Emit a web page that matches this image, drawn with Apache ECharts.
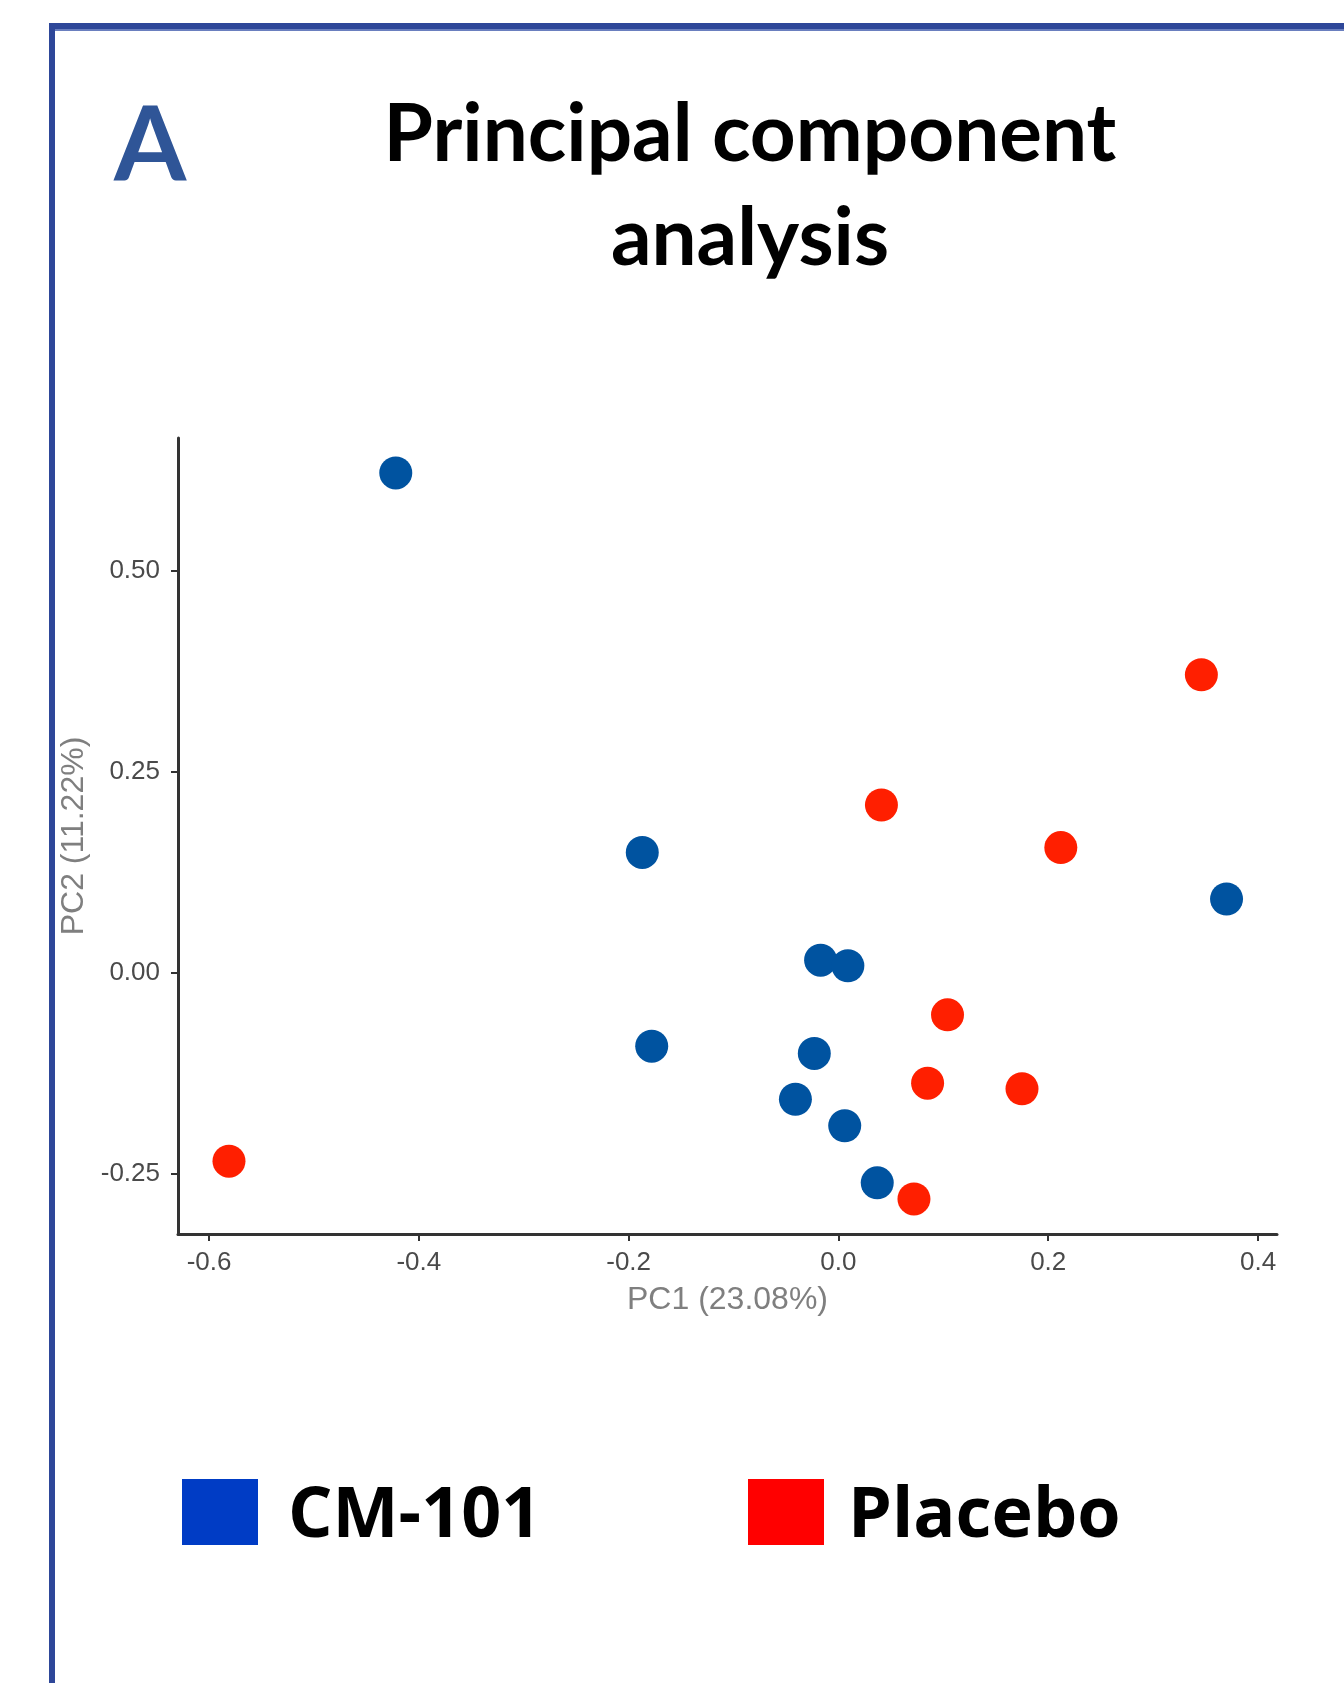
<!DOCTYPE html>
<html>
<head>
<meta charset="utf-8">
<script src="https://cdn.jsdelivr.net/npm/echarts@6/dist/echarts.min.js"></script>
<style>
html,body{margin:0;padding:0;background:#fff;}
#chart{width:1344px;height:1683px;}
</style>
</head>
<body>
<div id="chart"></div>
<script>
// ---- data ----
var seriesNames = ['CM-101', 'Placebo'];
var cm101Points = [
  [-0.422, 0.622], [-0.187, 0.150], [0.370, 0.092], [-0.017, 0.016], [0.009, 0.009],
  [-0.178, -0.091], [-0.023, -0.100], [-0.041, -0.157], [0.006, -0.190], [0.037, -0.261]
];
var placeboPoints = [
  [-0.581, -0.234], [0.346, 0.371], [0.041, 0.209], [0.212, 0.156], [0.104, -0.052],
  [0.085, -0.137], [0.175, -0.144], [0.072, -0.281]
];
var xTicks = [-0.6, -0.4, -0.2, 0.0, 0.2, 0.4];
var yTicks = [-0.25, 0.0, 0.25, 0.50];
var xAxisTitle = 'PC1 (23.08%)';
var yAxisTitle = 'PC2 (11.22%)';
var chartTitle = 'Principal component\nanalysis';
var panelLetter = 'A';

var chart = echarts.init(document.getElementById('chart'), null, {renderer: 'canvas'});
var tickFont = 'Liberation Sans, Arial, sans-serif';
// legend swatch: a 76x66 square; a hair-thin dot below it lowers the label slightly
var swatchIcon = 'path://M0,0L76,0L76,66L0,66Z M0,76.99L0.01,76.99L0.01,77L0,77Z';
var option = {
  backgroundColor: '#ffffff',
  animation: false,
  grid: {left: 178, top: 438, right: 67, bottom: 449, containLabel: false},
  legend: [
    {
      data: [{name: seriesNames[0], itemStyle: {color: '#003CC5'}}],
      left: 182, top: 1479, padding: 0,
      itemWidth: 76, itemHeight: 77, icon: swatchIcon,
      selectedMode: false,
      textStyle: {fontFamily: 'Open Sans', fontWeight: 700, fontSize: 70, color: '#000', lineHeight: 66, padding: [0, 0, 0, 25]}
    },
    {
      data: [{name: seriesNames[1], itemStyle: {color: '#FF0000'}}],
      left: 748, top: 1479, padding: 0,
      itemWidth: 76, itemHeight: 77, icon: swatchIcon,
      selectedMode: false,
      textStyle: {fontFamily: 'Open Sans', fontWeight: 700, fontSize: 70, color: '#000', lineHeight: 66, padding: [0, 0, 0, 19]}
    }
  ],
  xAxis: {
    type: 'value',
    min: -0.6296, max: 0.4181,
    name: xAxisTitle, nameLocation: 'middle', nameGap: 50,
    nameTextStyle: {fontFamily: tickFont, fontSize: 32, color: '#7f7f7f'},
    axisLine: {show: true, onZero: false, lineStyle: {color: '#333333', width: 3}},
    axisTick: {show: true, length: 7, customValues: xTicks, lineStyle: {color: '#333333', width: 2}},
    axisLabel: {customValues: xTicks, margin: 16, fontFamily: tickFont, fontSize: 26, color: '#4a4a4a',
      formatter: function (v) { return v.toFixed(1); }},
    splitLine: {show: false}
  },
  yAxis: {
    type: 'value',
    min: -0.3246, max: 0.6654,
    name: yAxisTitle, nameLocation: 'middle', nameGap: 87, nameRotate: 90,
    nameTextStyle: {fontFamily: tickFont, fontSize: 32, color: '#7f7f7f'},
    axisLine: {show: true, onZero: false, lineStyle: {color: '#333333', width: 3}},
    axisTick: {show: true, length: 7, customValues: yTicks, lineStyle: {color: '#333333', width: 2}},
    axisLabel: {customValues: yTicks, margin: 18, fontFamily: tickFont, fontSize: 26, color: '#4a4a4a',
      formatter: function (v) { return v.toFixed(2); }},
    splitLine: {show: false}
  },
  series: [
    {name: seriesNames[0], type: 'scatter', data: cm101Points, symbolSize: 33,
      itemStyle: {color: '#0053A0', opacity: 1}},
    {name: seriesNames[1], type: 'scatter', data: placeboPoints, symbolSize: 33,
      itemStyle: {color: '#FF1F00', opacity: 1}}
  ],
  graphic: [
    {type: 'rect', shape: {x: 49, y: 23, width: 1400, height: 6}, style: {fill: '#2E4799'}},
    {type: 'rect', shape: {x: 49, y: 29, width: 1400, height: 2}, style: {fill: '#6A7FBF'}},
    {type: 'rect', shape: {x: 49, y: 23, width: 6, height: 1700}, style: {fill: '#2E4799'}},
    {type: 'text', x: 150, y: 146, style: {text: panelLetter, fontFamily: 'Lato', fontWeight: 700, fontSize: 104,
      fill: '#2F5597', align: 'center', verticalAlign: 'middle'}},
    {type: 'text', x: 750, y: 83, style: {text: chartTitle, fontFamily: 'Lato', fontWeight: 700, fontSize: 80,
      lineHeight: 104, fill: '#000000', align: 'center', verticalAlign: 'top'}}
  ]
};
chart.setOption(option);
</script>
</body>
</html>
